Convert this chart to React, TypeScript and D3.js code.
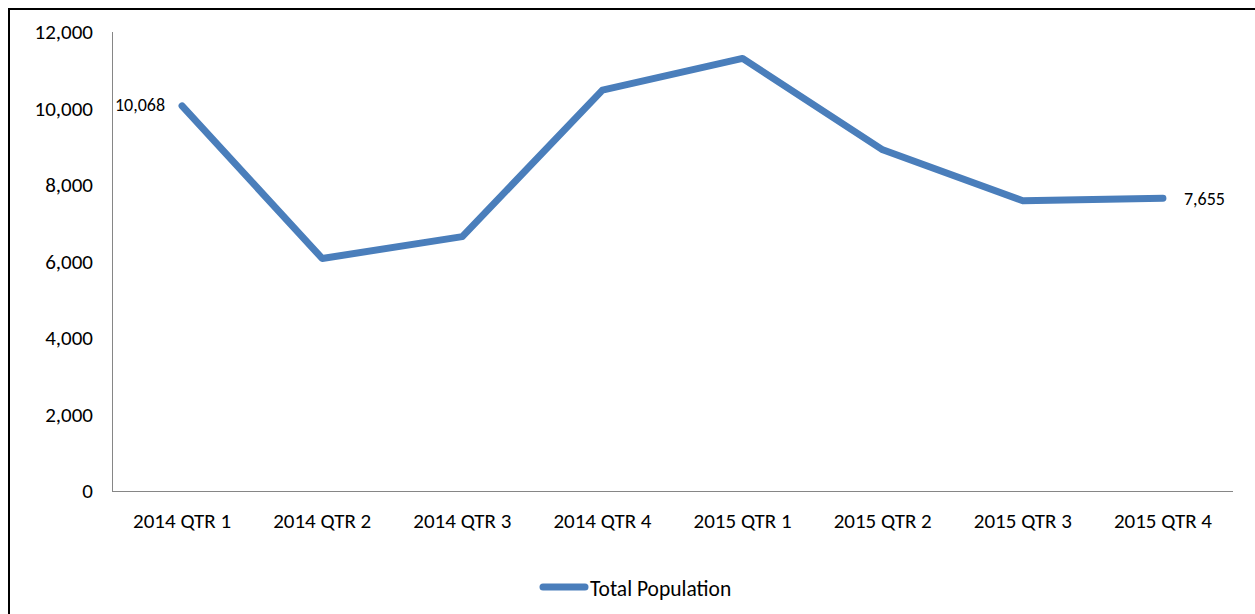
import { useRef, useEffect } from 'react';
import * as d3 from 'd3';

const categories = ['2014 QTR 1', '2014 QTR 2', '2014 QTR 3', '2014 QTR 4', '2015 QTR 1', '2015 QTR 2', '2015 QTR 3', '2015 QTR 4'];
const totalPopulation = [10068, 6080, 6650, 10480, 11310, 8920, 7590, 7655];
const yTicks = [0, 2000, 4000, 6000, 8000, 10000, 12000];
const seriesName = 'Total Population';

const W = 1255;
const H = 614;
const FONT = 'Carlito, Calibri, "Open Sans", sans-serif';
const BLUE = '#4a7ebb';

const App = () => {
  const ref = useRef<SVGSVGElement>(null);

  useEffect(() => {
    const svg = d3.select(ref.current);
    svg.selectAll('*').remove();

    const left = 112, right = 1233, top = 32, bottom = 491;

    const x = d3.scaleBand<string>().domain(categories).range([left, right]);
    const y = d3.scaleLinear().domain([0, 12000]).range([bottom, top]);
    const cx = (c: string) => (x(c) ?? 0) + x.bandwidth() / 2;

    // outer chart border (only top & left fall inside the window)
    svg.append('rect')
      .attr('x', 9).attr('y', 9)
      .attr('width', 1400).attr('height', 800)
      .attr('fill', 'none')
      .attr('stroke', '#000')
      .attr('stroke-width', 2);

    // axes lines
    svg.append('line')
      .attr('x1', left + 0.5).attr('x2', left + 0.5)
      .attr('y1', top).attr('y2', bottom)
      .attr('stroke', '#868686').attr('stroke-width', 1);
    svg.append('line')
      .attr('x1', left).attr('x2', right)
      .attr('y1', bottom + 0.5).attr('y2', bottom + 0.5)
      .attr('stroke', '#868686').attr('stroke-width', 1);

    // y tick labels
    svg.append('g')
      .selectAll('text')
      .data(yTicks)
      .enter()
      .append('text')
      .attr('x', 93)
      .attr('y', d => y(d))
      .attr('dy', '0.35em')
      .attr('text-anchor', 'end')
      .style('font-family', FONT)
      .style('font-size', '21px')
      .attr('fill', '#000')
      .text(d => d3.format(',')(d));

    // x labels
    svg.append('g')
      .selectAll('text')
      .data(categories)
      .enter()
      .append('text')
      .attr('x', d => cx(d))
      .attr('y', 521)
      .attr('dy', '0.35em')
      .attr('text-anchor', 'middle')
      .style('font-family', FONT)
      .style('font-size', '21px')
      .attr('fill', '#000')
      .text(d => d);

    // the series line
    const line = d3.line<number>()
      .x((_, i) => cx(categories[i]))
      .y(d => y(d));

    svg.append('path')
      .datum(totalPopulation)
      .attr('d', line)
      .attr('fill', 'none')
      .attr('stroke', BLUE)
      .attr('stroke-width', 7)
      .attr('stroke-linecap', 'round')
      .attr('stroke-linejoin', 'round');

    // first and last data labels
    const n = totalPopulation.length;
    svg.append('text')
      .attr('x', cx(categories[0]) - 17)
      .attr('y', y(totalPopulation[0]) - 1)
      .attr('dy', '0.35em')
      .attr('text-anchor', 'end')
      .style('font-family', FONT)
      .style('font-size', '18px')
      .text(d3.format(',')(totalPopulation[0]));
    svg.append('text')
      .attr('x', cx(categories[n - 1]) + 21)
      .attr('y', y(totalPopulation[n - 1]) + 1)
      .attr('dy', '0.35em')
      .attr('text-anchor', 'start')
      .style('font-family', FONT)
      .style('font-size', '18px')
      .text(d3.format(',')(totalPopulation[n - 1]));

    // legend
    svg.append('line')
      .attr('x1', 543).attr('x2', 585)
      .attr('y1', 587).attr('y2', 587)
      .attr('stroke', BLUE)
      .attr('stroke-width', 7)
      .attr('stroke-linecap', 'round');
    svg.append('text')
      .attr('x', 590)
      .attr('y', 588)
      .attr('dy', '0.35em')
      .style('font-family', FONT)
      .style('font-size', '21.5px')
      .text(seriesName);
  }, []);

  return (
    <svg
      ref={ref}
      width={W}
      height={H}
      style={{ position: 'absolute', left: 0, top: 0, background: '#fff' }}
    ></svg>
  );
};

export default App;
